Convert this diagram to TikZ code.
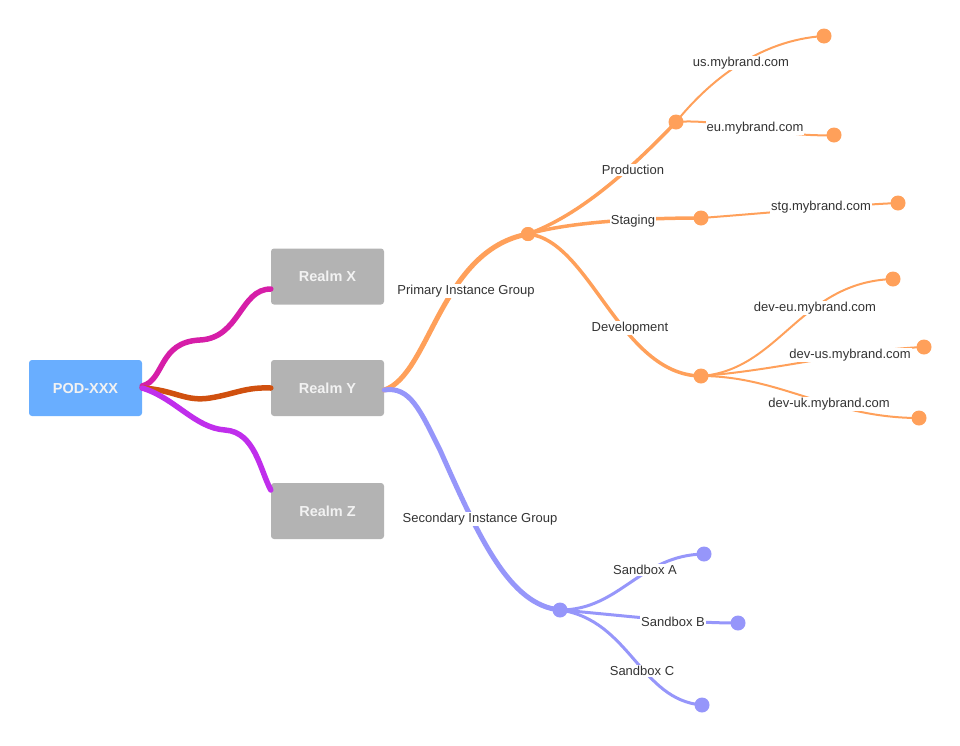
\documentclass[tikz,border=0pt]{standalone}
\usepackage{fontspec}
\setmainfont{Liberation Sans}
\definecolor{podblue}{HTML}{69AEFF}
\definecolor{realmgray}{HTML}{B3B3B3}
\definecolor{boxtext}{HTML}{F2F2F2}
\definecolor{lbltext}{HTML}{333333}
\definecolor{orangeb}{HTML}{FFA05A}
\definecolor{lavb}{HTML}{9696FA}
\definecolor{magx}{HTML}{D61EA8}
\definecolor{redy}{HTML}{D0500F}
\definecolor{purz}{HTML}{C02EEC}
\begin{document}
\begin{tikzpicture}[x=1pt,y=-1pt,
  box/.style={rounded corners=3pt, minimum width=113pt, minimum height=56pt, inner sep=0pt,
    font=\fontsize{14.5}{16}\selectfont\bfseries, text=boxtext},
  lbl/.style={fill=white, inner sep=1pt, text=lbltext, font=\fontsize{13}{15}\selectfont},
  dotnode/.style={circle, inner sep=0pt, minimum size=#1},
  dotnode/.default=15pt,
  trunk/.style={line width=5pt, line cap=round},
  mid/.style={line width=3.5pt, line cap=round},
  leaf/.style={line width=2pt, line cap=round}]
\useasboundingbox (0,0) rectangle (960,745);

% boxes
\node[box, fill=podblue] (pod) at (85.5,388) {POD-XXX};
\node[box, fill=realmgray] (rx) at (327.5,276.5) {Realm X};
\node[box, fill=realmgray] (ry) at (327.5,388) {Realm Y};
\node[box, fill=realmgray] (rz) at (327.5,511) {Realm Z};

% hubs and leaves
\node[dotnode=14pt, fill=orangeb] (ph) at (528,234) {};
\node[dotnode=15pt, fill=orangeb] (prod) at (676,122) {};
\node[dotnode=15pt, fill=orangeb] (stg) at (701,218) {};
\node[dotnode=15pt, fill=orangeb] (dev) at (701,376) {};
\node[dotnode=15pt, fill=orangeb] (us) at (824,36) {};
\node[dotnode=15pt, fill=orangeb] (eu) at (834,135) {};
\node[dotnode=15pt, fill=orangeb] (stgl) at (898,203) {};
\node[dotnode=15pt, fill=orangeb] (deveu) at (893,279) {};
\node[dotnode=15pt, fill=orangeb] (devus) at (924,347) {};
\node[dotnode=15pt, fill=orangeb] (devuk) at (919,418) {};
\node[dotnode=15pt, fill=lavb] (sh) at (560,610) {};
\node[dotnode=15pt, fill=lavb] (sa) at (704,554) {};
\node[dotnode=15pt, fill=lavb] (sb) at (738,623) {};
\node[dotnode=15pt, fill=lavb] (sc) at (702,705) {};

% connectors from POD
\draw[magx, line width=5.5pt, line cap=round] ([yshift=2pt]pod.east) .. controls (165,380) and (158,342) .. (200,340)
  .. controls (240,338) and (240,289) .. ([yshift=-12.5pt]rx.west);
\draw[redy, line width=5.5pt, line cap=round] (pod.east) .. controls (175,390) and (185,402) .. (210,398)
  .. controls (235,394) and (245,387) .. (ry.west);
\draw[purz, line width=5.5pt, line cap=round] (pod.east) .. controls (175,398) and (195,428) .. (225,430)
  .. controls (255,432) and (260,470) .. ([yshift=21pt]rz.west);

% trunks
\draw[orangeb, trunk] ([yshift=-2pt]ry.east) .. controls (430,375) and (440,250) .. (ph.center);
\draw[lavb, trunk] ([yshift=-2pt]ry.east) .. controls (410,386) and (420,410) .. (440,450)
  .. controls (480,540) and (510,605) .. (sh.center);

% primary branches
\draw[orangeb, mid] (ph.center) .. controls (580,215) and (630,170) .. (prod.center);
\draw[orangeb, mid] (ph.center) .. controls (570,222) and (640,218) .. (stg.center);
\draw[orangeb, mid] (ph.center) .. controls (590,240) and (620,375) .. (dev.center);

% leaves
\draw[orangeb, leaf] (prod.center) .. controls (710,80) and (760,40) .. (us.center);
\draw[orangeb, leaf] (prod.center) .. controls (720,118) and (780,138) .. (eu.center);
\draw[orangeb, leaf] (stg.center) .. controls (780,212) and (850,205) .. (stgl.center);
\draw[orangeb, leaf] (dev.center) .. controls (780,370) and (800,282) .. (deveu.center);
\draw[orangeb, leaf] (dev.center) .. controls (780,370) and (850,350) .. (devus.center);
\draw[orangeb, leaf] (dev.center) .. controls (780,376) and (830,418) .. (devuk.center);

% sandbox branches
\draw[lavb, line width=3pt, line cap=round] (sh.center) .. controls (620,610) and (640,555) .. (sa.center);
\draw[lavb, line width=3pt, line cap=round] (sh.center) .. controls (620,615) and (680,623) .. (sb.center);
\draw[lavb, line width=3pt, line cap=round] (sh.center) .. controls (630,620) and (640,700) .. (sc.center);

% redraw dots on top
\foreach \n/\c in {ph/orangeb,prod/orangeb,stg/orangeb,dev/orangeb,us/orangeb,eu/orangeb,stgl/orangeb,deveu/orangeb,devus/orangeb,devuk/orangeb,sh/lavb,sa/lavb,sb/lavb,sc/lavb}
  \fill[\c] (\n.center) circle (7pt);

% labels
\node[lbl] (lprim) at (466,291) {Primary Instance Group};
\node[lbl] (lsec) at (480,519) {Secondary Instance Group};
\node[lbl] (lprod) at (633,170) {Production};
\node[lbl] (lstg) at (633,221) {Staging};
\node[lbl] (ldev) at (630,328) {Development};
\node[lbl] (lus) at (741,63) {us.mybrand.com};
\node[lbl] (leu) at (755,128) {eu.mybrand.com};
\node[lbl] (lstgl) at (821,207) {stg.mybrand.com};
\node[lbl] (ldeveu) at (815,308) {dev-eu.mybrand.com};
\node[lbl] (ldevus) at (850,355) {dev-us.mybrand.com};
\node[lbl] (ldevuk) at (829,404) {dev-uk.mybrand.com};
\node[lbl] (lsa) at (645,570) {Sandbox A};
\node[lbl] (lsb) at (673,622) {Sandbox B};
\node[lbl] (lsc) at (642,671) {Sandbox C};
\end{tikzpicture}
\end{document}
